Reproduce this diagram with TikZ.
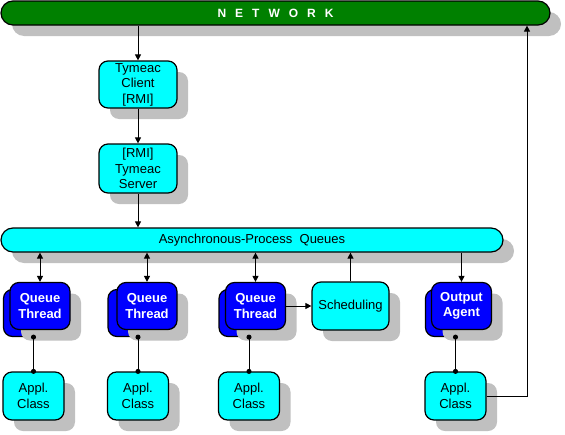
\documentclass[tikz,border=0pt]{standalone}
\usepackage{fontspec}
\setmainfont{Liberation Sans}
\usetikzlibrary{arrows.meta,shadows}
\definecolor{cyanbox}{RGB}{0,255,255}
\definecolor{bluebox}{RGB}{0,0,255}
\definecolor{netgreen}{RGB}{0,128,0}
\definecolor{shadowgray}{RGB}{192,192,192}
\begin{document}
\begin{tikzpicture}[x=1pt,y=-1pt,
  shad/.style={drop shadow={shadow xshift=11pt,shadow yshift=-11pt,fill=shadowgray,opacity=1}},
  cbox/.style={draw=black,line width=1.2pt,fill=cyanbox,rounded corners=9pt,inner sep=0pt,align=center,font=\fontsize{13}{15.5}\selectfont,shad},
  bfront/.style={draw=black,line width=1.2pt,fill=bluebox,rounded corners=9pt,inner sep=0pt,align=center,text=white,font=\bfseries\fontsize{13}{15.5}\selectfont,minimum width=60pt,minimum height=47pt,shad},
  bback/.style={draw=black,line width=1.2pt,fill=bluebox,rounded corners=9pt,minimum width=60pt,minimum height=47pt,inner sep=0pt},
  bar/.style={draw=black,line width=1.2pt,rounded corners=12pt,inner sep=0pt,minimum height=24pt,shad},
  arr/.style={line width=1pt,-{Triangle[length=6pt,width=6pt]}},
  darr/.style={line width=1pt,{Triangle[length=6pt,width=6pt]}-{Triangle[length=6pt,width=6pt]}},
  dotl/.style={line width=1pt,{Circle[length=5pt]}-{Circle[length=5pt]},shorten <=-2.5pt,shorten >=-2.5pt}]
\useasboundingbox (0,0) rectangle (565,434);
% bars
\node[bar,fill=netgreen,minimum width=549pt,text=white,font=\bfseries\fontsize{12}{14}\selectfont] (net) at (275.5,13) {N\hspace{9pt}E\hspace{9pt}T\hspace{9pt}W\hspace{9pt}O\hspace{9pt}R\hspace{9pt}K};
\node[cbox,minimum width=78pt,minimum height=47pt] (cli) at (138,84.5) {Tymeac\\Client\\{[RMI]}};
\node[cbox,minimum width=78pt,minimum height=49pt] (srv) at (138,168.5) {{[RMI]}\\Tymeac\\Server};
\node[bar,fill=cyanbox,minimum width=502pt,font=\fontsize{13}{15}\selectfont] (apq) at (252,240) {Asynchronous-Process\ \ Queues};
% thread boxes
\node[bback] (t1b) at (33.5,313) {};
\node[bfront] (t1f) at (40,306) {Queue\\Thread};
\node[bback] (t2b) at (138,313) {};
\node[bfront] (t2f) at (147,306) {Queue\\Thread};
\node[bback] (t3b) at (249,313) {};
\node[bfront] (t3f) at (255.5,306) {Queue\\Thread};
\node[bback] (oab) at (455.5,313) {};
\node[bfront] (oaf) at (461.5,306) {Output\\Agent};
\node[cbox,minimum width=77pt,minimum height=48pt] (sch) at (350.5,306) {Scheduling};
% appl classes
\node[cbox,minimum width=61pt,minimum height=48pt] (a1) at (33.5,396) {Appl.\\Class};
\node[cbox,minimum width=61pt,minimum height=48pt] (a2) at (138,396) {Appl.\\Class};
\node[cbox,minimum width=61pt,minimum height=48pt] (a3) at (249,396) {Appl.\\Class};
\node[cbox,minimum width=61pt,minimum height=48pt] (a4) at (455.5,396) {Appl.\\Class};
% connectors
\draw[arr] (net.south -| cli.north) -- (cli.north);
\draw[arr] (cli) -- (srv);
\draw[arr] (srv.south) -- (srv.south |- apq.north);
\draw[darr] (apq.south -| t1f.north) -- (t1f.north);
\draw[darr] (apq.south -| t2f.north) -- (t2f.north);
\draw[darr] (apq.south -| t3f.north) -- (t3f.north);
\draw[arr] (t3f) -- (sch);
\draw[arr] (sch.north) -- (sch.north |- apq.south);
\draw[arr] (apq.south -| oaf.north) -- (oaf.north);
\draw[dotl] (t1b.south) -- (a1.north);
\draw[dotl] (t2b.south) -- (a2.north);
\draw[dotl] (t3b.south) -- (a3.north);
\draw[dotl] (oab.south) -- (a4.north);
\coordinate (ret) at (527,396);
\draw[arr] (a4.east) -- (ret) -- (ret |- net.south);
\end{tikzpicture}
\end{document}
